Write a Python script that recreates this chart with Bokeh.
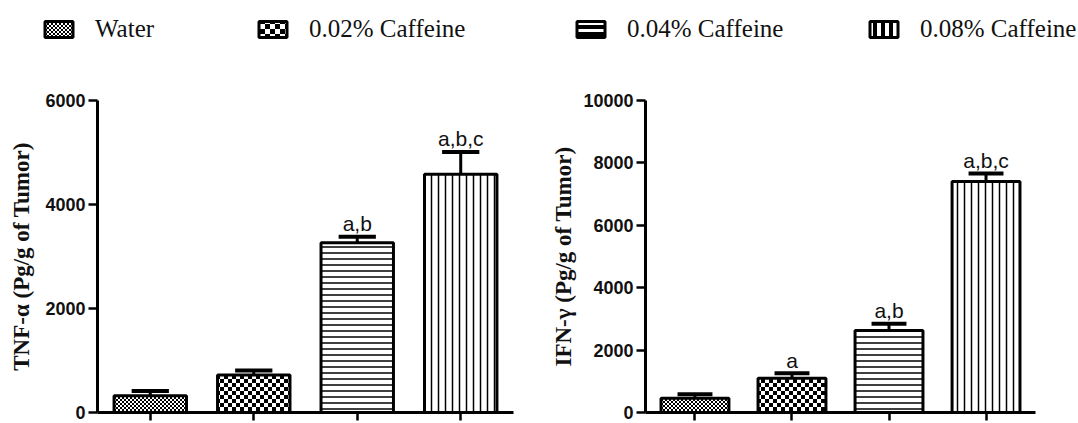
import base64
from bokeh.plotting import figure
from bokeh.models import Range1d, FixedTicker, Legend, LegendItem, ImageURLTexture
from bokeh.layouts import column, row
from bokeh.embed import file_html
from bokeh.resources import INLINE
from bokeh.core.properties import value

# ---------------- data ----------------
categories = ["Water", "0.02% Caffeine", "0.04% Caffeine", "0.08% Caffeine"]
x_pos = [0, 1, 2, 3]

tnf_mean = [320, 720, 3265, 4580]
tnf_err = [95, 90, 115, 430]
tnf_sig = ["", "", "a,b", "a,b,c"]
tnf_ticks = [0, 2000, 4000, 6000]

ifn_mean = [460, 1100, 2630, 7400]
ifn_err = [125, 155, 215, 260]
ifn_sig = ["", "a", "a,b", "a,b,c"]
ifn_ticks = [0, 2000, 4000, 6000, 8000, 10000]


# ---------------- styles ----------------
def checker_uri(cell, fg, bg):
    s = 2 * cell
    svg = ("<svg xmlns='http://www.w3.org/2000/svg' width='%d' height='%d' "
           "shape-rendering='crispEdges'>"
           "<rect width='%d' height='%d' fill='%s'/>"
           "<rect width='%d' height='%d' fill='%s'/>"
           "<rect x='%d' y='%d' width='%d' height='%d' fill='%s'/></svg>"
           % (s, s, s, s, bg, cell, cell, fg, cell, cell, cell, cell, fg))
    return "data:image/svg+xml;base64," + base64.b64encode(svg.encode()).decode()


extra = {
    "fine_k": ImageURLTexture(url=checker_uri(2, "#000000", "#ffffff")),
    "big_k": ImageURLTexture(url=checker_uri(4, "#000000", "#ffffff")),
    "fine_w": ImageURLTexture(url=checker_uri(2, "#ffffff", "#000000")),
    "big_w": ImageURLTexture(url=checker_uri(5, "#ffffff", "#000000")),
}

bar_styles = [
    dict(hatch_pattern=value("fine_k")),
    dict(hatch_pattern=value("big_k")),
    dict(hatch_pattern="horizontal_line", hatch_scale=6, hatch_weight=1.5),
    dict(hatch_pattern="vertical_line", hatch_scale=7, hatch_weight=1.5),
]
legend_styles = [
    dict(hatch_pattern=value("fine_w")),
    dict(hatch_pattern=value("big_w")),
    dict(hatch_pattern="horizontal_line", hatch_scale=7, hatch_weight=3),
    dict(hatch_pattern="vertical_line", hatch_scale=8, hatch_weight=4),
]

INK = "#111111"


def make_chart(mean, err, sig, ticks, ymax, label, b_left, f_width, b_right,
               title_standoff):
    p = figure(output_backend="svg", toolbar_location=None, tools="",
               frame_width=f_width, frame_height=312,
               min_border_left=b_left, min_border_right=b_right,
               min_border_top=37, min_border_bottom=10,
               x_range=Range1d(-0.51, 3.51), y_range=Range1d(0, ymax),
               background_fill_color="white", border_fill_color="white")
    p.grid.visible = False
    p.outline_line_color = None

    upper = [m + e for m, e in zip(mean, err)]
    p.segment(x0=x_pos, y0=mean, x1=x_pos, y1=upper,
              line_color="black", line_width=3)
    p.segment(x0=[x - 0.18 for x in x_pos], y0=upper,
              x1=[x + 0.18 for x in x_pos], y1=upper,
              line_color="black", line_width=4)
    for i in range(len(x_pos)):
        p.vbar(x=[x_pos[i]], top=[mean[i]], width=0.7, bottom=0,
               fill_color="white", line_color="black", line_width=3,
               hatch_color="black", hatch_extra=extra, **bar_styles[i])
    p.text(x=x_pos, y=upper, text=sig, text_align="center",
           text_baseline="alphabetic", y_offset=-13,
           text_font=value("Liberation Sans"), text_font_size="21px",
           text_color=INK)

    ya = p.yaxis[0]
    ya.ticker = FixedTicker(ticks=ticks)
    ya.axis_line_width = 3
    ya.major_tick_line_width = 2.5
    ya.major_tick_out = 9
    ya.major_tick_in = 0
    ya.minor_tick_line_color = None
    ya.major_label_standoff = 3
    ya.major_label_text_font = "Liberation Sans"
    ya.major_label_text_font_style = "bold"
    ya.major_label_text_font_size = "18px"
    ya.major_label_text_color = INK
    ya.axis_label = label
    ya.axis_label_text_font = "Liberation Serif"
    ya.axis_label_text_font_style = "bold"
    ya.axis_label_text_font_size = "23px"
    ya.axis_label_text_color = INK
    ya.axis_label_standoff = title_standoff

    xa = p.xaxis[0]
    xa.ticker = FixedTicker(ticks=x_pos)
    xa.axis_line_width = 3
    xa.major_tick_line_width = 2.5
    xa.major_tick_out = 8
    xa.major_tick_in = 0
    xa.minor_tick_line_color = None
    xa.major_label_text_color = None
    xa.major_label_text_font_size = "1px"
    xa.major_label_standoff = 0
    return p


p1 = make_chart(tnf_mean, tnf_err, tnf_sig, tnf_ticks, 6000,
                "TNF-\u03b1 (Pg/g of Tumor)", 97, 416, 20, 8)
p2 = make_chart(ifn_mean, ifn_err, ifn_sig, ifn_ticks, 10000,
                "IFN-\u03b3 (Pg/g of Tumor)", 112, 390, 43, 4)

# ---------------- legend strip ----------------
lg = figure(output_backend="svg", toolbar_location=None, tools="",
            width=1078, height=63, min_border=0,
            x_axis_location=None, y_axis_location=None,
            x_range=Range1d(-1, 4), y_range=Range1d(0, 1),
            background_fill_color="white", border_fill_color="white")
lg.grid.visible = False
lg.outline_line_color = None

legend_x = [41, 255, 573, 866]
for i, cat in enumerate(categories):
    r = lg.vbar(x=[x_pos[i]], top=[1], width=1, fill_color="black",
                line_color="black", line_width=3, hatch_color="white",
                hatch_extra=extra, visible=False, **legend_styles[i])
    leg = Legend(items=[LegendItem(label=cat, renderers=[r])],
                 location=(legend_x[i], 20), orientation="horizontal",
                 glyph_width=35, glyph_height=20, label_standoff=19,
                 padding=0, margin=0, border_line_color=None,
                 background_fill_alpha=0, inactive_fill_alpha=0,
                 label_text_font="Liberation Serif",
                 label_text_font_size="25px", label_text_color=INK)
    lg.add_layout(leg)

layout = column(lg, row(p1, p2))
open("out.html", "w").write(file_html(layout, INLINE))
